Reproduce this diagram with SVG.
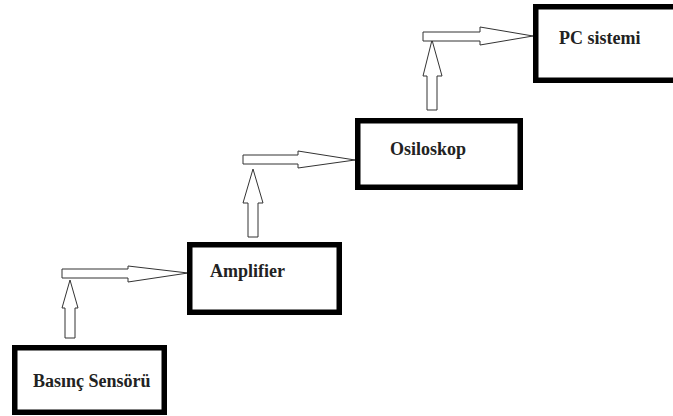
<svg xmlns="http://www.w3.org/2000/svg" width="673" height="416" viewBox="0 0 673 416">
  <style>
    .box { fill: #ffffff; stroke: #000000; stroke-width: 5.5; }
    .lbl { font-family: "Liberation Serif", "Times New Roman", serif; font-weight: bold; font-size: 18px; fill: #222222; }
    .arr { fill: #ffffff; stroke: #333333; stroke-width: 1; stroke-linejoin: miter; }
  </style>
  <rect x="0" y="0" width="673" height="416" fill="#ffffff"/>
  <g id="connectors">
    <polygon class="arr" points="65,338 65,308 62,308 70,280 78,308 75,308 75,338"/>
    <polygon class="arr" points="62,269 128,269 128,266 188,273 128,282 128,278 62,278"/>
    <polygon class="arr" points="248,237 248,203 243,203 253,169 263,203 258,203 258,237"/>
    <polygon class="arr" points="243,155 298,155 298,151 355,160 298,168 298,164 243,164"/>
    <polygon class="arr" points="427,110 427,76 423,76 432,40 442,76 437,76 437,110"/>
    <polygon class="arr" points="423,32 480,32 480,27 533,36 480,45 480,41 423,41"/>
  </g>
  <g id="basinc-sensoru">
    <rect class="box" x="14.75" y="347.75" width="149.5" height="64.5"/>
    <text class="lbl" x="33" y="387">Basınç Sensörü</text>
  </g>
  <g id="amplifier">
    <rect class="box" x="189.75" y="244.75" width="149.5" height="67.5"/>
    <text class="lbl" x="210" y="277">Amplifier</text>
  </g>
  <g id="osiloskop">
    <rect class="box" x="357.75" y="120.75" width="162.5" height="66.5"/>
    <text class="lbl" x="390" y="155">Osiloskop</text>
  </g>
  <g id="pc-sistemi">
    <rect class="box" x="535.75" y="6.75" width="150" height="73.5"/>
    <text class="lbl" x="559" y="44">PC sistemi</text>
  </g>
</svg>
